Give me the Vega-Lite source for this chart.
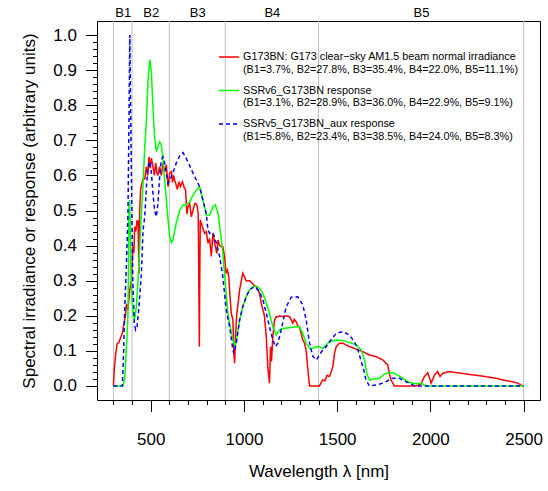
{
  "$schema": "https://vega.github.io/schema/vega-lite/v6.json",
  "width": 443,
  "height": 379,
  "autosize": {"type": "none"},
  "padding": {"left": 97, "top": 21, "right": 8, "bottom": 91},
  "background": "white",
  "config": {
    "font": "Liberation Sans",
    "view": {"stroke": "black", "strokeWidth": 1},
    "axis": {"labelFont": "Liberation Sans", "titleFont": "Liberation Sans", "labelColor": "black", "titleColor": "black", "tickColor": "black", "domainColor": "black", "grid": false, "labelFontSize": 17, "titleFontSize": 17, "titleFontWeight": "normal"},
    "legend": {"labelFont": "Liberation Sans", "labelColor": "black", "labelFontSize": 10.8, "labelLineHeight": 14.5, "symbolType": "stroke", "symbolSize": 400, "symbolStrokeWidth": 1.6, "labelOffset": 3, "rowPadding": 4.5, "padding": 0, "orient": "none", "legendX": 121, "legendY": 25, "labelLimit": 400}
  },
  "datasets": {
    "bands": [
      {"boundary": 300}, {"boundary": 400}, {"boundary": 600}, {"boundary": 900}, {"boundary": 1400}, {"boundary": 2500}
    ],
    "curves": [
      {"s": "G173BN", "wl": 300, "v": 0},
      {"s": "G173BN", "wl": 305, "v": 0.05},
      {"s": "G173BN", "wl": 312, "v": 0.09},
      {"s": "G173BN", "wl": 320, "v": 0.12},
      {"s": "G173BN", "wl": 330, "v": 0.125},
      {"s": "G173BN", "wl": 340, "v": 0.14},
      {"s": "G173BN", "wl": 348, "v": 0.15},
      {"s": "G173BN", "wl": 357, "v": 0.18},
      {"s": "G173BN", "wl": 365, "v": 0.2},
      {"s": "G173BN", "wl": 370, "v": 0.234},
      {"s": "G173BN", "wl": 378, "v": 0.217},
      {"s": "G173BN", "wl": 387, "v": 0.27},
      {"s": "G173BN", "wl": 396, "v": 0.30},
      {"s": "G173BN", "wl": 402, "v": 0.36},
      {"s": "G173BN", "wl": 405, "v": 0.40},
      {"s": "G173BN", "wl": 410, "v": 0.38},
      {"s": "G173BN", "wl": 414, "v": 0.454},
      {"s": "G173BN", "wl": 420, "v": 0.44},
      {"s": "G173BN", "wl": 426, "v": 0.47},
      {"s": "G173BN", "wl": 432, "v": 0.47},
      {"s": "G173BN", "wl": 437, "v": 0.32},
      {"s": "G173BN", "wl": 441, "v": 0.5},
      {"s": "G173BN", "wl": 446, "v": 0.56},
      {"s": "G173BN", "wl": 450, "v": 0.57},
      {"s": "G173BN", "wl": 459, "v": 0.59},
      {"s": "G173BN", "wl": 468, "v": 0.59},
      {"s": "G173BN", "wl": 477, "v": 0.625},
      {"s": "G173BN", "wl": 484, "v": 0.6},
      {"s": "G173BN", "wl": 491, "v": 0.653},
      {"s": "G173BN", "wl": 497, "v": 0.62},
      {"s": "G173BN", "wl": 504, "v": 0.649},
      {"s": "G173BN", "wl": 512, "v": 0.625},
      {"s": "G173BN", "wl": 520, "v": 0.6},
      {"s": "G173BN", "wl": 527, "v": 0.635},
      {"s": "G173BN", "wl": 533, "v": 0.61},
      {"s": "G173BN", "wl": 539, "v": 0.60},
      {"s": "G173BN", "wl": 548, "v": 0.625},
      {"s": "G173BN", "wl": 557, "v": 0.6},
      {"s": "G173BN", "wl": 566, "v": 0.635},
      {"s": "G173BN", "wl": 575, "v": 0.61},
      {"s": "G173BN", "wl": 584, "v": 0.63},
      {"s": "G173BN", "wl": 593, "v": 0.568},
      {"s": "G173BN", "wl": 602, "v": 0.606},
      {"s": "G173BN", "wl": 611, "v": 0.611},
      {"s": "G173BN", "wl": 617, "v": 0.58},
      {"s": "G173BN", "wl": 623, "v": 0.60},
      {"s": "G173BN", "wl": 629, "v": 0.585},
      {"s": "G173BN", "wl": 634, "v": 0.578},
      {"s": "G173BN", "wl": 643, "v": 0.56},
      {"s": "G173BN", "wl": 652, "v": 0.582},
      {"s": "G173BN", "wl": 659, "v": 0.568},
      {"s": "G173BN", "wl": 665, "v": 0.575},
      {"s": "G173BN", "wl": 670, "v": 0.582},
      {"s": "G173BN", "wl": 680, "v": 0.565},
      {"s": "G173BN", "wl": 687, "v": 0.559},
      {"s": "G173BN", "wl": 691, "v": 0.52},
      {"s": "G173BN", "wl": 694, "v": 0.49},
      {"s": "G173BN", "wl": 700, "v": 0.51},
      {"s": "G173BN", "wl": 709, "v": 0.52},
      {"s": "G173BN", "wl": 718, "v": 0.482},
      {"s": "G173BN", "wl": 727, "v": 0.50},
      {"s": "G173BN", "wl": 736, "v": 0.52},
      {"s": "G173BN", "wl": 741, "v": 0.52},
      {"s": "G173BN", "wl": 748, "v": 0.515},
      {"s": "G173BN", "wl": 755, "v": 0.49},
      {"s": "G173BN", "wl": 758, "v": 0.3},
      {"s": "G173BN", "wl": 761, "v": 0.112},
      {"s": "G173BN", "wl": 763, "v": 0.3},
      {"s": "G173BN", "wl": 766, "v": 0.473},
      {"s": "G173BN", "wl": 777, "v": 0.454},
      {"s": "G173BN", "wl": 789, "v": 0.435},
      {"s": "G173BN", "wl": 798, "v": 0.44},
      {"s": "G173BN", "wl": 807, "v": 0.407},
      {"s": "G173BN", "wl": 816, "v": 0.42},
      {"s": "G173BN", "wl": 825, "v": 0.369},
      {"s": "G173BN", "wl": 834, "v": 0.435},
      {"s": "G173BN", "wl": 843, "v": 0.407},
      {"s": "G173BN", "wl": 850, "v": 0.39},
      {"s": "G173BN", "wl": 855, "v": 0.378},
      {"s": "G173BN", "wl": 861, "v": 0.416},
      {"s": "G173BN", "wl": 870, "v": 0.40},
      {"s": "G173BN", "wl": 879, "v": 0.397},
      {"s": "G173BN", "wl": 887, "v": 0.397},
      {"s": "G173BN", "wl": 896, "v": 0.368},
      {"s": "G173BN", "wl": 905, "v": 0.321},
      {"s": "G173BN", "wl": 912, "v": 0.33},
      {"s": "G173BN", "wl": 919, "v": 0.311},
      {"s": "G173BN", "wl": 923, "v": 0.274},
      {"s": "G173BN", "wl": 932, "v": 0.207},
      {"s": "G173BN", "wl": 941, "v": 0.188},
      {"s": "G173BN", "wl": 946, "v": 0.093},
      {"s": "G173BN", "wl": 950, "v": 0.065},
      {"s": "G173BN", "wl": 955, "v": 0.14},
      {"s": "G173BN", "wl": 962, "v": 0.207},
      {"s": "G173BN", "wl": 971, "v": 0.245},
      {"s": "G173BN", "wl": 977, "v": 0.274},
      {"s": "G173BN", "wl": 986, "v": 0.30},
      {"s": "G173BN", "wl": 994, "v": 0.321},
      {"s": "G173BN", "wl": 1003, "v": 0.311},
      {"s": "G173BN", "wl": 1012, "v": 0.30},
      {"s": "G173BN", "wl": 1030, "v": 0.30},
      {"s": "G173BN", "wl": 1048, "v": 0.29},
      {"s": "G173BN", "wl": 1066, "v": 0.283},
      {"s": "G173BN", "wl": 1084, "v": 0.264},
      {"s": "G173BN", "wl": 1093, "v": 0.236},
      {"s": "G173BN", "wl": 1102, "v": 0.217},
      {"s": "G173BN", "wl": 1110, "v": 0.2},
      {"s": "G173BN", "wl": 1120, "v": 0.14},
      {"s": "G173BN", "wl": 1128, "v": 0.055},
      {"s": "G173BN", "wl": 1137, "v": 0.008},
      {"s": "G173BN", "wl": 1143, "v": 0.112},
      {"s": "G173BN", "wl": 1148, "v": 0.07},
      {"s": "G173BN", "wl": 1155, "v": 0.14},
      {"s": "G173BN", "wl": 1164, "v": 0.188},
      {"s": "G173BN", "wl": 1173, "v": 0.197},
      {"s": "G173BN", "wl": 1182, "v": 0.197},
      {"s": "G173BN", "wl": 1191, "v": 0.20},
      {"s": "G173BN", "wl": 1209, "v": 0.197},
      {"s": "G173BN", "wl": 1227, "v": 0.20},
      {"s": "G173BN", "wl": 1245, "v": 0.197},
      {"s": "G173BN", "wl": 1262, "v": 0.179},
      {"s": "G173BN", "wl": 1270, "v": 0.19},
      {"s": "G173BN", "wl": 1280, "v": 0.183},
      {"s": "G173BN", "wl": 1290, "v": 0.17},
      {"s": "G173BN", "wl": 1298, "v": 0.169},
      {"s": "G173BN", "wl": 1307, "v": 0.15},
      {"s": "G173BN", "wl": 1316, "v": 0.131},
      {"s": "G173BN", "wl": 1325, "v": 0.122},
      {"s": "G173BN", "wl": 1334, "v": 0.1},
      {"s": "G173BN", "wl": 1343, "v": 0.046},
      {"s": "G173BN", "wl": 1352, "v": 0},
      {"s": "G173BN", "wl": 1405, "v": 0},
      {"s": "G173BN", "wl": 1415, "v": 0.01},
      {"s": "G173BN", "wl": 1423, "v": 0.017},
      {"s": "G173BN", "wl": 1435, "v": 0.015},
      {"s": "G173BN", "wl": 1445, "v": 0.03},
      {"s": "G173BN", "wl": 1459, "v": 0.027},
      {"s": "G173BN", "wl": 1468, "v": 0.04},
      {"s": "G173BN", "wl": 1477, "v": 0.055},
      {"s": "G173BN", "wl": 1486, "v": 0.093},
      {"s": "G173BN", "wl": 1495, "v": 0.112},
      {"s": "G173BN", "wl": 1504, "v": 0.117},
      {"s": "G173BN", "wl": 1513, "v": 0.122},
      {"s": "G173BN", "wl": 1530, "v": 0.122},
      {"s": "G173BN", "wl": 1548, "v": 0.117},
      {"s": "G173BN", "wl": 1566, "v": 0.112},
      {"s": "G173BN", "wl": 1593, "v": 0.107},
      {"s": "G173BN", "wl": 1611, "v": 0.103},
      {"s": "G173BN", "wl": 1638, "v": 0.098},
      {"s": "G173BN", "wl": 1673, "v": 0.088},
      {"s": "G173BN", "wl": 1709, "v": 0.084},
      {"s": "G173BN", "wl": 1745, "v": 0.074},
      {"s": "G173BN", "wl": 1771, "v": 0.06},
      {"s": "G173BN", "wl": 1780, "v": 0.036},
      {"s": "G173BN", "wl": 1789, "v": 0.017},
      {"s": "G173BN", "wl": 1807, "v": 0},
      {"s": "G173BN", "wl": 1923, "v": 0},
      {"s": "G173BN", "wl": 1950, "v": 0.006},
      {"s": "G173BN", "wl": 1968, "v": 0.027},
      {"s": "G173BN", "wl": 1986, "v": 0.038},
      {"s": "G173BN", "wl": 2004, "v": 0.008},
      {"s": "G173BN", "wl": 2022, "v": 0.031},
      {"s": "G173BN", "wl": 2039, "v": 0.041},
      {"s": "G173BN", "wl": 2052, "v": 0.027},
      {"s": "G173BN", "wl": 2066, "v": 0.036},
      {"s": "G173BN", "wl": 2102, "v": 0.041},
      {"s": "G173BN", "wl": 2138, "v": 0.038},
      {"s": "G173BN", "wl": 2209, "v": 0.033},
      {"s": "G173BN", "wl": 2280, "v": 0.028},
      {"s": "G173BN", "wl": 2352, "v": 0.022},
      {"s": "G173BN", "wl": 2388, "v": 0.017},
      {"s": "G173BN", "wl": 2441, "v": 0.012},
      {"s": "G173BN", "wl": 2468, "v": 0.008},
      {"s": "G173BN", "wl": 2495, "v": 0},
      {"s": "SSRv6", "wl": 300, "v": 0},
      {"s": "SSRv6", "wl": 351, "v": 0},
      {"s": "SSRv6", "wl": 360, "v": 0.02},
      {"s": "SSRv6", "wl": 365, "v": 0.06},
      {"s": "SSRv6", "wl": 370, "v": 0.112},
      {"s": "SSRv6", "wl": 378, "v": 0.2},
      {"s": "SSRv6", "wl": 381, "v": 0.35},
      {"s": "SSRv6", "wl": 384, "v": 0.511},
      {"s": "SSRv6", "wl": 387, "v": 0.53},
      {"s": "SSRv6", "wl": 390, "v": 0.46},
      {"s": "SSRv6", "wl": 394, "v": 0.33},
      {"s": "SSRv6", "wl": 400, "v": 0.25},
      {"s": "SSRv6", "wl": 407, "v": 0.2},
      {"s": "SSRv6", "wl": 414, "v": 0.19},
      {"s": "SSRv6", "wl": 423, "v": 0.226},
      {"s": "SSRv6", "wl": 432, "v": 0.30},
      {"s": "SSRv6", "wl": 441, "v": 0.397},
      {"s": "SSRv6", "wl": 450, "v": 0.49},
      {"s": "SSRv6", "wl": 459, "v": 0.577},
      {"s": "SSRv6", "wl": 468, "v": 0.68},
      {"s": "SSRv6", "wl": 477, "v": 0.758},
      {"s": "SSRv6", "wl": 486, "v": 0.872},
      {"s": "SSRv6", "wl": 495, "v": 0.93},
      {"s": "SSRv6", "wl": 504, "v": 0.891},
      {"s": "SSRv6", "wl": 512, "v": 0.796},
      {"s": "SSRv6", "wl": 521, "v": 0.71},
      {"s": "SSRv6", "wl": 530, "v": 0.668},
      {"s": "SSRv6", "wl": 539, "v": 0.682},
      {"s": "SSRv6", "wl": 548, "v": 0.696},
      {"s": "SSRv6", "wl": 557, "v": 0.687},
      {"s": "SSRv6", "wl": 566, "v": 0.644},
      {"s": "SSRv6", "wl": 575, "v": 0.587},
      {"s": "SSRv6", "wl": 584, "v": 0.53},
      {"s": "SSRv6", "wl": 593, "v": 0.473},
      {"s": "SSRv6", "wl": 602, "v": 0.425},
      {"s": "SSRv6", "wl": 611, "v": 0.408},
      {"s": "SSRv6", "wl": 619, "v": 0.416},
      {"s": "SSRv6", "wl": 637, "v": 0.464},
      {"s": "SSRv6", "wl": 655, "v": 0.50},
      {"s": "SSRv6", "wl": 673, "v": 0.516},
      {"s": "SSRv6", "wl": 691, "v": 0.516},
      {"s": "SSRv6", "wl": 709, "v": 0.525},
      {"s": "SSRv6", "wl": 727, "v": 0.544},
      {"s": "SSRv6", "wl": 745, "v": 0.558},
      {"s": "SSRv6", "wl": 762, "v": 0.568},
      {"s": "SSRv6", "wl": 780, "v": 0.53},
      {"s": "SSRv6", "wl": 798, "v": 0.487},
      {"s": "SSRv6", "wl": 816, "v": 0.487},
      {"s": "SSRv6", "wl": 834, "v": 0.511},
      {"s": "SSRv6", "wl": 847, "v": 0.516},
      {"s": "SSRv6", "wl": 861, "v": 0.492},
      {"s": "SSRv6", "wl": 870, "v": 0.454},
      {"s": "SSRv6", "wl": 879, "v": 0.416},
      {"s": "SSRv6", "wl": 887, "v": 0.378},
      {"s": "SSRv6", "wl": 896, "v": 0.321},
      {"s": "SSRv6", "wl": 905, "v": 0.264},
      {"s": "SSRv6", "wl": 914, "v": 0.207},
      {"s": "SSRv6", "wl": 923, "v": 0.179},
      {"s": "SSRv6", "wl": 941, "v": 0.131},
      {"s": "SSRv6", "wl": 954, "v": 0.112},
      {"s": "SSRv6", "wl": 962, "v": 0.14},
      {"s": "SSRv6", "wl": 977, "v": 0.188},
      {"s": "SSRv6", "wl": 994, "v": 0.226},
      {"s": "SSRv6", "wl": 1012, "v": 0.254},
      {"s": "SSRv6", "wl": 1030, "v": 0.274},
      {"s": "SSRv6", "wl": 1048, "v": 0.283},
      {"s": "SSRv6", "wl": 1066, "v": 0.285},
      {"s": "SSRv6", "wl": 1084, "v": 0.278},
      {"s": "SSRv6", "wl": 1102, "v": 0.264},
      {"s": "SSRv6", "wl": 1120, "v": 0.236},
      {"s": "SSRv6", "wl": 1137, "v": 0.207},
      {"s": "SSRv6", "wl": 1155, "v": 0.169},
      {"s": "SSRv6", "wl": 1173, "v": 0.145},
      {"s": "SSRv6", "wl": 1191, "v": 0.16},
      {"s": "SSRv6", "wl": 1209, "v": 0.164},
      {"s": "SSRv6", "wl": 1245, "v": 0.166},
      {"s": "SSRv6", "wl": 1280, "v": 0.169},
      {"s": "SSRv6", "wl": 1298, "v": 0.169},
      {"s": "SSRv6", "wl": 1316, "v": 0.15},
      {"s": "SSRv6", "wl": 1334, "v": 0.122},
      {"s": "SSRv6", "wl": 1352, "v": 0.107},
      {"s": "SSRv6", "wl": 1370, "v": 0.107},
      {"s": "SSRv6", "wl": 1388, "v": 0.112},
      {"s": "SSRv6", "wl": 1405, "v": 0.112},
      {"s": "SSRv6", "wl": 1423, "v": 0.107},
      {"s": "SSRv6", "wl": 1441, "v": 0.117},
      {"s": "SSRv6", "wl": 1459, "v": 0.126},
      {"s": "SSRv6", "wl": 1495, "v": 0.131},
      {"s": "SSRv6", "wl": 1530, "v": 0.129},
      {"s": "SSRv6", "wl": 1566, "v": 0.124},
      {"s": "SSRv6", "wl": 1602, "v": 0.117},
      {"s": "SSRv6", "wl": 1629, "v": 0.103},
      {"s": "SSRv6", "wl": 1647, "v": 0.074},
      {"s": "SSRv6", "wl": 1659, "v": 0.036},
      {"s": "SSRv6", "wl": 1673, "v": 0.017},
      {"s": "SSRv6", "wl": 1691, "v": 0.019},
      {"s": "SSRv6", "wl": 1727, "v": 0.022},
      {"s": "SSRv6", "wl": 1754, "v": 0.034},
      {"s": "SSRv6", "wl": 1780, "v": 0.038},
      {"s": "SSRv6", "wl": 1798, "v": 0.038},
      {"s": "SSRv6", "wl": 1825, "v": 0.031},
      {"s": "SSRv6", "wl": 1852, "v": 0.022},
      {"s": "SSRv6", "wl": 1879, "v": 0.012},
      {"s": "SSRv6", "wl": 1905, "v": 0.008},
      {"s": "SSRv6", "wl": 1932, "v": 0.006},
      {"s": "SSRv6", "wl": 1950, "v": 0.008},
      {"s": "SSRv6", "wl": 1977, "v": 0},
      {"s": "SSRv6", "wl": 2500, "v": 0},
      {"s": "SSRv5", "wl": 300, "v": 0},
      {"s": "SSRv5", "wl": 348, "v": 0},
      {"s": "SSRv5", "wl": 355, "v": 0.1},
      {"s": "SSRv5", "wl": 361, "v": 0.226},
      {"s": "SSRv5", "wl": 370, "v": 0.35},
      {"s": "SSRv5", "wl": 378, "v": 0.49},
      {"s": "SSRv5", "wl": 384, "v": 0.78},
      {"s": "SSRv5", "wl": 388, "v": 1.0},
      {"s": "SSRv5", "wl": 392, "v": 0.8},
      {"s": "SSRv5", "wl": 397, "v": 0.58},
      {"s": "SSRv5", "wl": 404, "v": 0.3},
      {"s": "SSRv5", "wl": 412, "v": 0.18},
      {"s": "SSRv5", "wl": 419, "v": 0.16},
      {"s": "SSRv5", "wl": 427, "v": 0.169},
      {"s": "SSRv5", "wl": 437, "v": 0.226},
      {"s": "SSRv5", "wl": 450, "v": 0.321},
      {"s": "SSRv5", "wl": 459, "v": 0.445},
      {"s": "SSRv5", "wl": 468, "v": 0.482},
      {"s": "SSRv5", "wl": 477, "v": 0.568},
      {"s": "SSRv5", "wl": 486, "v": 0.625},
      {"s": "SSRv5", "wl": 495, "v": 0.64},
      {"s": "SSRv5", "wl": 504, "v": 0.606},
      {"s": "SSRv5", "wl": 512, "v": 0.549},
      {"s": "SSRv5", "wl": 521, "v": 0.50},
      {"s": "SSRv5", "wl": 530, "v": 0.482},
      {"s": "SSRv5", "wl": 539, "v": 0.52},
      {"s": "SSRv5", "wl": 548, "v": 0.596},
      {"s": "SSRv5", "wl": 557, "v": 0.644},
      {"s": "SSRv5", "wl": 566, "v": 0.653},
      {"s": "SSRv5", "wl": 575, "v": 0.635},
      {"s": "SSRv5", "wl": 584, "v": 0.606},
      {"s": "SSRv5", "wl": 593, "v": 0.578},
      {"s": "SSRv5", "wl": 602, "v": 0.587},
      {"s": "SSRv5", "wl": 619, "v": 0.606},
      {"s": "SSRv5", "wl": 637, "v": 0.635},
      {"s": "SSRv5", "wl": 655, "v": 0.655},
      {"s": "SSRv5", "wl": 673, "v": 0.665},
      {"s": "SSRv5", "wl": 691, "v": 0.648},
      {"s": "SSRv5", "wl": 709, "v": 0.628},
      {"s": "SSRv5", "wl": 727, "v": 0.606},
      {"s": "SSRv5", "wl": 745, "v": 0.587},
      {"s": "SSRv5", "wl": 762, "v": 0.568},
      {"s": "SSRv5", "wl": 780, "v": 0.53},
      {"s": "SSRv5", "wl": 798, "v": 0.492},
      {"s": "SSRv5", "wl": 807, "v": 0.445},
      {"s": "SSRv5", "wl": 816, "v": 0.435},
      {"s": "SSRv5", "wl": 834, "v": 0.437},
      {"s": "SSRv5", "wl": 852, "v": 0.407},
      {"s": "SSRv5", "wl": 870, "v": 0.368},
      {"s": "SSRv5", "wl": 887, "v": 0.311},
      {"s": "SSRv5", "wl": 905, "v": 0.217},
      {"s": "SSRv5", "wl": 923, "v": 0.169},
      {"s": "SSRv5", "wl": 941, "v": 0.103},
      {"s": "SSRv5", "wl": 946, "v": 0.093},
      {"s": "SSRv5", "wl": 959, "v": 0.122},
      {"s": "SSRv5", "wl": 977, "v": 0.188},
      {"s": "SSRv5", "wl": 994, "v": 0.226},
      {"s": "SSRv5", "wl": 1012, "v": 0.254},
      {"s": "SSRv5", "wl": 1030, "v": 0.274},
      {"s": "SSRv5", "wl": 1057, "v": 0.283},
      {"s": "SSRv5", "wl": 1084, "v": 0.269},
      {"s": "SSRv5", "wl": 1102, "v": 0.245},
      {"s": "SSRv5", "wl": 1120, "v": 0.207},
      {"s": "SSRv5", "wl": 1137, "v": 0.169},
      {"s": "SSRv5", "wl": 1155, "v": 0.131},
      {"s": "SSRv5", "wl": 1169, "v": 0.112},
      {"s": "SSRv5", "wl": 1182, "v": 0.122},
      {"s": "SSRv5", "wl": 1200, "v": 0.16},
      {"s": "SSRv5", "wl": 1227, "v": 0.226},
      {"s": "SSRv5", "wl": 1254, "v": 0.253},
      {"s": "SSRv5", "wl": 1289, "v": 0.254},
      {"s": "SSRv5", "wl": 1316, "v": 0.231},
      {"s": "SSRv5", "wl": 1334, "v": 0.188},
      {"s": "SSRv5", "wl": 1352, "v": 0.122},
      {"s": "SSRv5", "wl": 1370, "v": 0.084},
      {"s": "SSRv5", "wl": 1388, "v": 0.074},
      {"s": "SSRv5", "wl": 1405, "v": 0.088},
      {"s": "SSRv5", "wl": 1423, "v": 0.103},
      {"s": "SSRv5", "wl": 1441, "v": 0.112},
      {"s": "SSRv5", "wl": 1459, "v": 0.126},
      {"s": "SSRv5", "wl": 1495, "v": 0.15},
      {"s": "SSRv5", "wl": 1530, "v": 0.155},
      {"s": "SSRv5", "wl": 1566, "v": 0.145},
      {"s": "SSRv5", "wl": 1593, "v": 0.126},
      {"s": "SSRv5", "wl": 1611, "v": 0.103},
      {"s": "SSRv5", "wl": 1638, "v": 0.055},
      {"s": "SSRv5", "wl": 1655, "v": 0.017},
      {"s": "SSRv5", "wl": 1673, "v": 0},
      {"s": "SSRv5", "wl": 1709, "v": 0.003},
      {"s": "SSRv5", "wl": 1745, "v": 0.008},
      {"s": "SSRv5", "wl": 1798, "v": 0.022},
      {"s": "SSRv5", "wl": 1834, "v": 0.022},
      {"s": "SSRv5", "wl": 1870, "v": 0.012},
      {"s": "SSRv5", "wl": 1905, "v": 0.003},
      {"s": "SSRv5", "wl": 1923, "v": 0},
      {"s": "SSRv5", "wl": 2500, "v": 0}
    ]
  },
  "layer": [
    {
      "data": {"name": "bands"},
      "mark": {"type": "rule", "color": "#BEBEBE", "strokeWidth": 1},
      "encoding": {
        "x": {
          "field": "boundary", "type": "quantitative",
          "scale": {"domain": [212, 2588], "nice": false, "zero": false},
          "axis": {
            "orient": "top", "title": null, "domain": false, "ticks": false,
            "values": [350, 500, 750, 1150, 1950],
            "labelExpr": "datum.value == 350 ? 'B1' : datum.value == 500 ? 'B2' : datum.value == 750 ? 'B3' : datum.value == 1150 ? 'B4' : 'B5'",
            "labelFontSize": 13, "labelPadding": 2
          }
        }
      }
    },
    {
      "data": {"name": "curves"},
      "mark": {"type": "line", "strokeWidth": 1.5},
      "encoding": {
        "x": {
          "field": "wl", "type": "quantitative",
          "scale": {"domain": [212, 2588], "nice": false, "zero": false},
          "axis": {
            "orient": "bottom", "title": "Wavelength λ [nm]", "domain": false,
            "values": [300, 400, 500, 600, 700, 800, 900, 1000, 1100, 1200, 1300, 1400, 1500, 1600, 1700, 1800, 1900, 2000, 2100, 2200, 2300, 2400, 2500],
            "labelExpr": "datum.value % 500 === 0 ? format(datum.value, 'd') : ''",
            "tickSize": {"condition": {"test": "datum.value % 500 === 0", "value": 11.5}, "value": 4.5},
            "labelPadding": 20, "titlePadding": 16, "labelFlush": false, "labelOverlap": false
          }
        },
        "y": {
          "field": "v", "type": "quantitative",
          "scale": {"domain": [-0.04, 1.04], "nice": false, "zero": false},
          "axis": {
            "title": "Spectral irradiance or response (arbitrary units)", "domain": false,
            "values": [0, 0.02, 0.04, 0.06, 0.08, 0.1, 0.12, 0.14, 0.16, 0.18, 0.2, 0.22, 0.24, 0.26, 0.28, 0.3, 0.32, 0.34, 0.36, 0.38, 0.4, 0.42, 0.44, 0.46, 0.48, 0.5, 0.52, 0.54, 0.56, 0.58, 0.6, 0.62, 0.64, 0.66, 0.68, 0.7, 0.72, 0.74, 0.76, 0.78, 0.8, 0.82, 0.84, 0.86, 0.88, 0.9, 0.92, 0.94, 0.96, 0.98, 1.0],
            "labelExpr": "abs(datum.value * 10 - round(datum.value * 10)) < 0.001 ? format(datum.value, '.1f') : ''",
            "tickSize": {"condition": {"test": "abs(datum.value * 10 - round(datum.value * 10)) < 0.001", "value": 11.5}, "value": 4.5},
            "labelPadding": 9, "titlePadding": 14, "labelFlush": false, "labelOverlap": false
          }
        },
        "color": {
          "field": "s", "type": "nominal",
          "scale": {"domain": ["G173BN", "SSRv6", "SSRv5"], "range": ["#FF0000", "#00FF00", "#0000FF"]},
          "legend": {
            "title": null,
            "labelExpr": "datum.value == 'G173BN' ? ['G173BN: G173 clear−sky AM1.5 beam normal irradiance', '(B1=3.7%, B2=27.8%, B3=35.4%, B4=22.0%, B5=11.1%)'] : datum.value == 'SSRv6' ? ['SSRv6_G173BN response', '(B1=3.1%, B2=28.9%, B3=36.0%, B4=22.9%, B5=9.1%)'] : ['SSRv5_G173BN_aux response', '(B1=5.8%, B2=23.4%, B3=38.5%, B4=24.0%, B5=8.3%)']"
          }
        },
        "strokeDash": {
          "field": "s", "type": "nominal",
          "scale": {"domain": ["G173BN", "SSRv6", "SSRv5"], "range": [[1, 0], [1, 0], [4, 3]]},
          "legend": {
            "title": null,
            "labelExpr": "datum.value == 'G173BN' ? ['G173BN: G173 clear−sky AM1.5 beam normal irradiance', '(B1=3.7%, B2=27.8%, B3=35.4%, B4=22.0%, B5=11.1%)'] : datum.value == 'SSRv6' ? ['SSRv6_G173BN response', '(B1=3.1%, B2=28.9%, B3=36.0%, B4=22.9%, B5=9.1%)'] : ['SSRv5_G173BN_aux response', '(B1=5.8%, B2=23.4%, B3=38.5%, B4=24.0%, B5=8.3%)']"
          }
        }
      }
    }
  ],
  "resolve": {"axis": {"x": "independent"}}
}
